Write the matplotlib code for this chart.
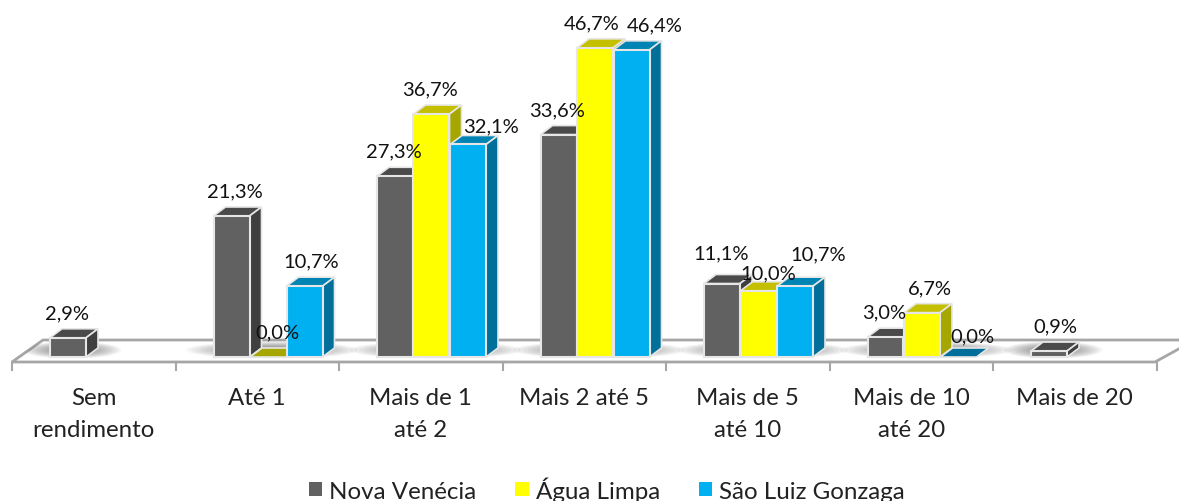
import matplotlib
matplotlib.use("Agg")
import matplotlib.pyplot as plt
from matplotlib.patches import Polygon, Ellipse, Patch

plt.rcParams['font.family'] = ['Lato', 'DejaVu Sans']

categories = ["Sem\nrendimento", "Até 1", "Mais de 1\naté 2", "Mais 2 até 5",
              "Mais de 5\naté 10", "Mais de 10\naté 20", "Mais de 20"]
nova_venecia = [2.9, 21.3, 27.3, 33.6, 11.1, 3.0, 0.9]
agua_limpa = [None, 0.0, 36.7, 46.7, 10.0, 6.7, None]
sao_luiz = [None, 10.7, 32.1, 46.4, 10.7, 0.0, None]
series_names = ["Nova Venécia", "Água Limpa", "São Luiz Gonzaga"]

# front, top, side
colors = [("#616161", "#4a4a4a", "#3f3f3f"),
          ("#ffff00", "#c4c000", "#a6a600"),
          ("#00b0f0", "#0084b4", "#006f9a")]

# label nudges in pixels, from the default spot above each bar
nudges = [[(0, 0), (5, 0), (0, 0), (0, 0), (0, 6), (0, 0), (8, 0)],
          [None, (11, 0), (0, 0), (-2, 0), (11, -7), (9, 0), None],
          [None, (8, 0), (24, -6), (24, 0), (24, 7), (15, -4), None]]

W, H = 1179, 502
PITCH = 163.5      # pixels per category
SCALE = 6.62       # pixels per percent
BASE_PX = 358
FIRST_PX = 104.5   # middle of the first group
DX = 12 / PITCH    # 3d depth
DY = 9 / SCALE
BAR_W = 36 / PITCH
STEP = 36.5 / PITCH


def xp(px):
    return (px - FIRST_PX) / PITCH


def yp(px):
    return (BASE_PX - px) / SCALE


fig = plt.figure(figsize=(W / 100, H / 100), dpi=100)
ax = fig.add_axes([0, 0, 1, 1])
ax.set_xlim(xp(0), xp(W))
ax.set_ylim(yp(H), yp(0))
ax.axis("off")

# floor
floor = Polygon([(xp(12), yp(363)), (xp(43), yp(341)), (xp(1195), yp(341)), (xp(1155), yp(363))],
                closed=True, facecolor="white", edgecolor="#a6a6a6", linewidth=2, zorder=1)
ax.add_patch(floor)
for i in range(8):
    tick_x = xp(12) + i
    ax.plot([tick_x, tick_x], [yp(363), yp(371)], color="#a6a6a6", linewidth=1.5, zorder=1)

all_series = [nova_venecia, agua_limpa, sao_luiz]

# soft shadows under every group
for i in range(len(categories)):
    n = sum(1 for s in all_series if s[i] is not None)
    cx = i - STEP * 1.5 + (n * STEP) / 2 + DX / 3
    for k in range(14):
        e = Ellipse((cx, yp(351)), (n * STEP + 62 / PITCH) * (1 - k / 18), (17 / SCALE) * (1 - k / 18),
                    facecolor="#444444", edgecolor="none", alpha=0.05, zorder=2)
        ax.add_patch(e)
        e.set_clip_path(floor)

# bars
edge = "#e6e6e6"
for s, values in enumerate(all_series):
    front, top, side = colors[s]
    for i, v in enumerate(values):
        if v is None:
            continue
        x0 = i - STEP * 1.5 + 0.25 / PITCH + s * STEP
        x1 = x0 + BAR_W
        ax.add_patch(Polygon([(x0, v), (x0 + DX, v + DY), (x1 + DX, v + DY), (x1, v)],
                             facecolor=side if v == 0 else top, edgecolor=edge, linewidth=1.2, zorder=3 + s))
        if v > 0:
            ax.add_patch(Polygon([(x1, 0), (x1 + DX, DY), (x1 + DX, v + DY), (x1, v)],
                                 facecolor=side, edgecolor=edge, linewidth=1.2, zorder=3 + s))
            ax.bar(x0, v, width=BAR_W, align="edge", color=front, edgecolor=edge, linewidth=1.5, zorder=3 + s)

# value labels
for s, values in enumerate(all_series):
    for i, v in enumerate(values):
        if v is None:
            continue
        x0 = i - STEP * 1.5 + s * STEP
        nx, ny = nudges[s][i]
        ax.text(x0 + (17 + nx) / PITCH, v + DY + (16 + ny) / SCALE,
                f"{v:.1f}%".replace(".", ","), ha="center", va="center",
                fontsize=14.5, color="#111111", zorder=10)

# category labels
for i, name in enumerate(categories):
    ax.text(xp(12) + i + 0.5, yp(388.5), name, ha="center", va="top",
            fontsize=17.3, color="#222222", linespacing=1.6, zorder=10)

handles = [Patch(facecolor=colors[j][0], edgecolor="none", label=series_names[j]) for j in range(3)]
ax.legend(handles=handles, loc="center", bbox_to_anchor=(607 / W, 1 - 490 / H), frameon=False,
          ncol=3, fontsize=17.4, handlelength=0.55, handleheight=0.55, handletextpad=0.3,
          columnspacing=1.6, labelcolor="#222222", borderpad=0)

fig.savefig("out.png", dpi=100)
